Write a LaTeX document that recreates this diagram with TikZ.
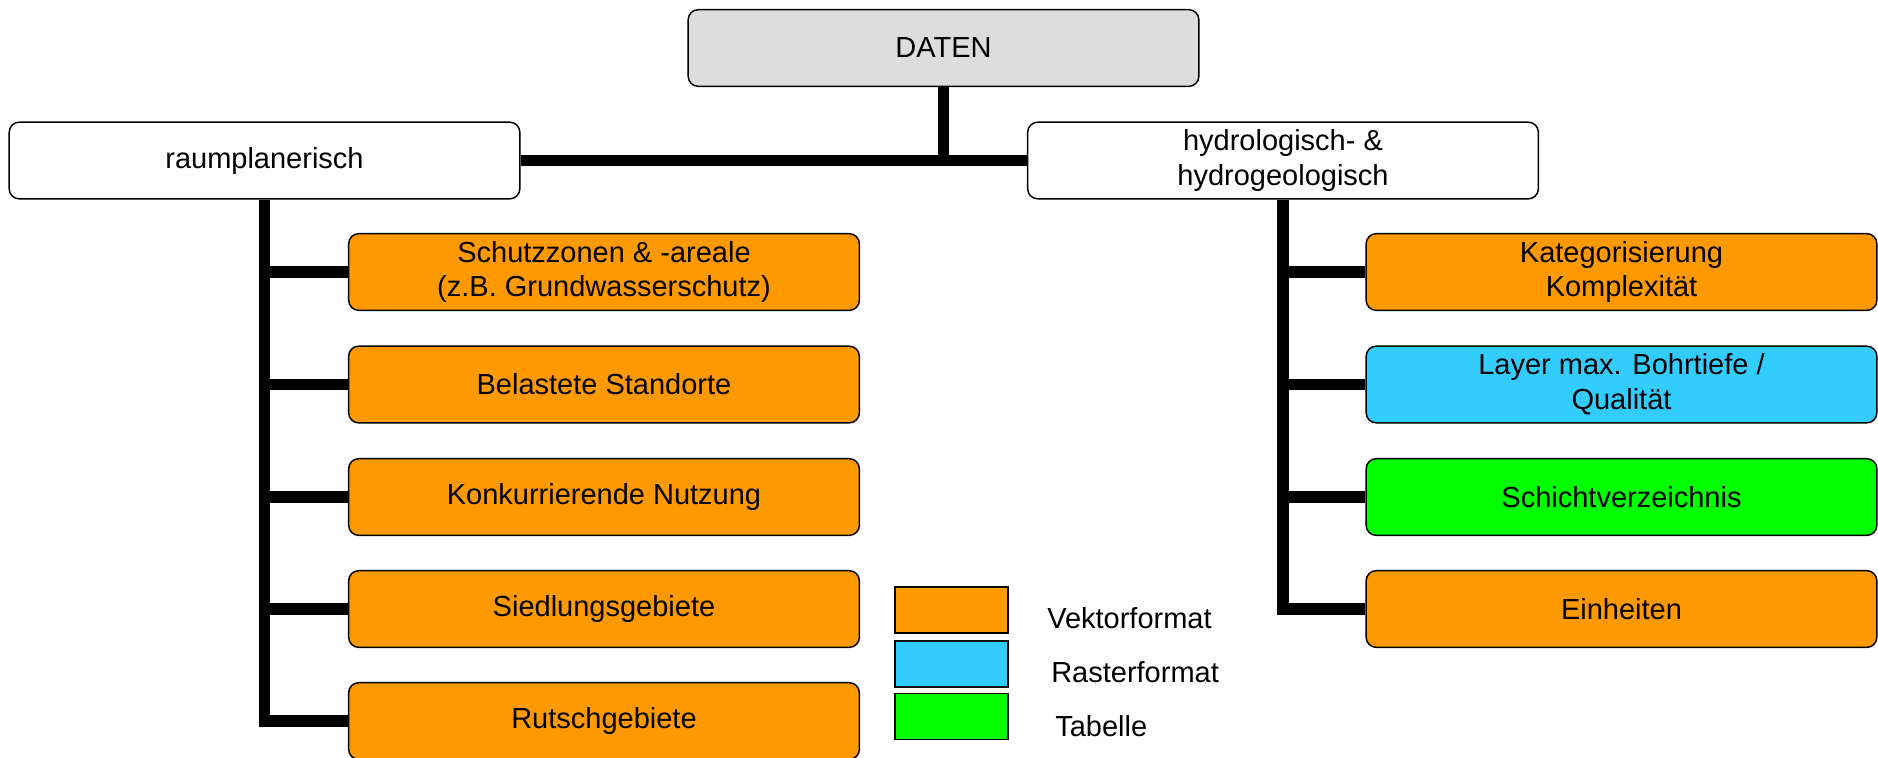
\documentclass[tikz,border=0pt]{standalone}
\usepackage{fontspec}
\setmainfont{Liberation Sans}
\definecolor{vektor}{HTML}{FF9900}
\definecolor{raster}{HTML}{33CCFF}
\definecolor{tabelle}{HTML}{00FF00}
\definecolor{kopf}{HTML}{DDDDDD}
\tikzset{
  box/.style={draw=black, line width=1.1pt, rounded corners=7.5pt,
    minimum width=383pt, minimum height=57.5pt, inner sep=0pt,
    align=center, font=\fontsize{21.75}{26}\selectfont},
  conn/.style={line width=8.5pt, line join=miter},
  legbox/.style={draw=black, line width=1.1pt, minimum width=85pt,
    minimum height=34.5pt, inner sep=0pt},
  legtext/.style={anchor=west, inner sep=0pt, font=\fontsize{21.75}{26}\selectfont}
}
\begin{document}
\begin{tikzpicture}[x=0.75pt, y=-0.75pt]
\useasboundingbox (0,0) rectangle (1878,757);

%Top
\node [box, fill=kopf] (daten) at (943.5,48) {DATEN};
\node [box, fill=white] (raum) at (264.5,160.5) {raumplanerisch};
\node [box, fill=white] (hydro) at (1283,160.5) {hydrologisch- \&\\hydrogeologisch};

%Left column
\foreach \n/\y/\c/\t in {schutz/272/vektor/{Schutzzonen \& -areale\\(z.B. Grundwasserschutz)},
  belastet/384.5/vektor/{Belastete Standorte},
  konkurr/497/vektor/{Konkurrierende Nutzung},
  siedlung/609/vektor/{Siedlungsgebiete},
  rutsch/721/vektor/{Rutschgebiete}}
{
\node [box, fill=\c] (\n) at (604,\y) {\t};
}

%Right column
\foreach \n/\y/\c/\t in {kateg/272/vektor/{Kategorisierung\\Komplexit\"at},
  layer/384.5/raster/{Layer max. Bohrtiefe /\\Qualit\"at},
  schicht/497/tabelle/{Schichtverzeichnis},
  einheit/609/vektor/{Einheiten}}
{
\node [box, fill=\c] (\n) at (1621.5,\y) {\t};
}

%Connectors
\draw [conn] (daten.south) -- (daten.south |- raum.east);
\draw [conn] (raum.east) -- (hydro.west);
\draw [conn] (raum.south) |- (rutsch.west);
\foreach \n in {schutz,belastet,konkurr,siedlung}
{
\draw [conn] (raum.south |- \n.west) -- (\n.west);
}
\draw [conn] (hydro.south) |- (einheit.west);
\foreach \n in {kateg,layer,schicht}
{
\draw [conn] (hydro.south |- \n.west) -- (\n.west);
}

%Legend
\node [legbox, fill=vektor] (legv) at (951.5,610) {};
\node [legbox, fill=raster] (legr) at (951.5,664) {};
\node [legbox, fill=tabelle] (legt) at (951.5,716.5) {};
\node [legtext] (txtv) at (1047,618) {Vektorformat};
\node [legtext] (txtr) at (1051,672) {Rasterformat};
\node [legtext] (txtt) at (1055,726) {Tabelle};

\end{tikzpicture}
\end{document}
